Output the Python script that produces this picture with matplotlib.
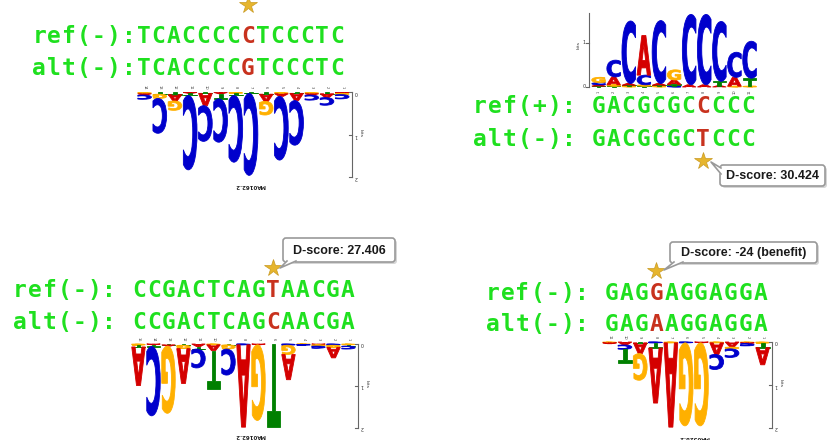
import matplotlib
matplotlib.use("Agg")
import matplotlib.pyplot as plt
from matplotlib.textpath import TextPath
from matplotlib.font_manager import FontProperties
from matplotlib.patches import PathPatch, FancyBboxPatch
from matplotlib.path import Path

# sequences shown above / below each motif logo
REF_TEXT = ["ref(-):TCACCCCCTCCCTC", "ref(+): GACGCGCCCCC",
            "ref(-): CCGACTCAGTAACGA", "ref(-): GAGGAGGAGGA"]
ALT_TEXT = ["alt(-):TCACCCCGTCCCTC", "alt(-): GACGCGCTCCC",
            "alt(-): CCGACTCAGCAACGA", "alt(-): GAGAAGGAGGA"]
SNP_INDEX = [14, 15, 17, 11]
DSCORES = [None, "D-score: 30.424", "D-score: 27.406", "D-score: -24 (benefit)"]
MOTIF_IDS = ["MA0162.2", None, "MA0162.2", "MA0528.2"]

# logo columns as seen left to right, letters from the baseline outward (bits)
LOGO1_LETTERS = ["GAC", "TGC", "TAG", "ATC", "TAC", "ATC", "GTC", "TC",
                 "TAG", "GAC", "TAC", "GAC", "TAC", "AGC"]
LOGO1_BITS = [[0.03, 0.03, 0.1], [0.04, 0.1, 0.82], [0.05, 0.15, 0.22],
              [0.02, 0.05, 1.75], [0.02, 0.29, 0.84], [0.03, 0.12, 1.02],
              [0.02, 0.05, 1.57], [0.02, 1.93], [0.04, 0.17, 0.32],
              [0.03, 0.06, 1.5], [0.02, 0.17, 1.05], [0.03, 0.03, 0.12],
              [0.03, 0.09, 0.18], [0.02, 0.03, 0.1]]

LOGO2_LETTERS = ["TACG", "TGAC", "GTAC", "TGCA", "GTAC", "CTAG", "AC", "AC",
                 "ATC", "GAC", "GTC"]
LOGO2_BITS = [[0.02, 0.03, 0.05, 0.12], [0.02, 0.03, 0.18, 0.38],
              [0.02, 0.02, 0.04, 1.42], [0.02, 0.03, 0.22, 0.9],
              [0.02, 0.02, 0.04, 1.43], [0.02, 0.04, 0.1, 0.23],
              [0.05, 1.6], [0.05, 1.6], [0.03, 0.1, 1.36],
              [0.02, 0.2, 0.57], [0.02, 0.18, 0.84]]

LOGO3_LETTERS = ["GTA", "ATC", "TAG", "TGA", "ATC", "GAT", "TGC", "CA", "AG",
                 "T", "CGA", "GC", "AGC", "CGA", "GTC"]
LOGO3_BITS = [[0.03, 0.04, 0.92], [0.02, 0.04, 1.65], [0.02, 0.03, 1.6],
              [0.03, 0.08, 0.83], [0.06, 0.06, 0.45], [0.02, 0.14, 0.9],
              [0.02, 0.1, 0.62], [0.02, 1.96], [0.02, 1.8], [1.98],
              [0.03, 0.22, 0.6], [0.01, 0.02], [0.02, 0.03, 0.05],
              [0.03, 0.05, 0.25], [0.02, 0.03, 0.07]]

LOGO4_LETTERS = ["GA", "ACT", "TAG", "CTA", "GA", "CG", "AG", "GAC", "AGC",
                 "GAC", "GTA"]
LOGO4_BITS = [[0.02, 0.02], [0.07, 0.1, 0.32], [0.02, 0.25, 0.62],
              [0.02, 0.12, 1.28], [0.02, 1.96], [0.02, 1.93], [0.02, 1.93],
              [0.02, 0.27, 0.35], [0.12, 0.04, 0.2], [0.02, 0.02, 0.05],
              [0.03, 0.1, 0.4]]

BASE_COLORS = {"A": "#d40000", "C": "#0000cc", "G": "#ffb000", "T": "#008000"}
SEQ_GREEN = "#1fe01f"
SNP_RED = "#c8321e"

fig = plt.figure(figsize=(8.28, 4.4), dpi=100)
ax = fig.add_axes([0, 0, 1, 1])
ax.set_xlim(0, 828)
ax.set_ylim(440, 0)
ax.axis("off")

logo_font = FontProperties(family="DejaVu Sans", weight="bold")
glyphs = {}


def put_letter(ch, x, y0, w, h, flip):
    if ch not in glyphs:
        p = TextPath((0, 0), ch, size=1, prop=logo_font)
        real = p.vertices[p.codes != Path.CLOSEPOLY]
        glyphs[ch] = (p, real.min(axis=0), real.max(axis=0))
    p, lo, hi = glyphs[ch]
    v = p.vertices.copy()
    u = (v[:, 0] - lo[0]) / (hi[0] - lo[0])
    t = (v[:, 1] - lo[1]) / (hi[1] - lo[1])
    if flip:
        v[:, 0] = x + w * (1 - u)
        v[:, 1] = y0 + h * t
    else:
        v[:, 0] = x + w * u
        v[:, 1] = y0 - h * t
    ax.add_patch(PathPatch(Path(v, p.codes), facecolor=BASE_COLORS[ch],
                           edgecolor=BASE_COLORS[ch], lw=0.6))


def draw_logo(letters, bits, x0, cw, base, bit_px, flip, axis_x, top_bits):
    n = len(letters)
    sgn = 1 if flip else -1
    for i, (lets, hs) in enumerate(zip(letters, bits)):
        cx = x0 + i * cw
        pos = base
        for ch, b in zip(lets, hs):
            h = b * bit_px
            put_letter(ch, cx + 0.05 * cw, pos, 0.9 * cw, h, flip)
            pos += sgn * h
        num = str(n - i) if flip else str(i + 1)
        ax.text(cx + cw / 2, base - sgn * 5, num, fontsize=2.6,
                rotation=270 if flip else 90, ha="center", va="center",
                color="#444")
    # bits axis
    end = base + sgn * top_bits * bit_px
    ax.plot([axis_x, axis_x], [base, end], color="#666", lw=0.8)
    for k in range(int(top_bits) + 1):
        yk = base + sgn * k * bit_px
        ax.plot([axis_x - 2.5, axis_x], [yk, yk], color="#666", lw=0.8)
        ax.text(axis_x + 4 if flip else axis_x - 5, yk, str(k), fontsize=3.5,
                rotation=180 if flip else 0, ha="center", va="center",
                color="#333")
    ax.text(axis_x + 9 if flip else axis_x - 10,
            base + sgn * 0.95 * bit_px, "bits", fontsize=3.2,
            rotation=270 if flip else 90, ha="center", va="center",
            color="#333")


draw_logo(LOGO1_LETTERS, LOGO1_BITS, 137, 15.2, 92.5, 42.5, True, 352, 2)
draw_logo(LOGO2_LETTERS, LOGO2_BITS, 591, 15.1, 87, 44, False, 589, 1.68)
draw_logo(LOGO3_LETTERS, LOGO3_BITS, 131, 15.0, 344, 42, True, 358, 2)
draw_logo(LOGO4_LETTERS, LOGO4_BITS, 602, 15.3, 342, 43, True, 772, 2)

# motif ids under the flipped logos
id_xy = [(250, 185), (0, 0), (250, 436), (694, 437)]
for mid, (mx, my) in zip(MOTIF_IDS, id_xy):
    if mid:
        ax.text(mx, my, mid, fontsize=4, rotation=180, ha="center",
                va="center", color="#222", weight="bold")

# sequence rows
x_first = [39.2, 479.6, 19.8, 492.5]
ref_base = [43, 113, 297, 300]
alt_base = [75, 146, 329, 331]
adv = 14.9
for p in range(4):
    for row, yb in ((REF_TEXT[p], ref_base[p]), (ALT_TEXT[p], alt_base[p])):
        for i, ch in enumerate(row):
            if ch == " ":
                continue
            col = SNP_RED if i == SNP_INDEX[p] else SEQ_GREEN
            ax.text(x_first[p] + i * adv, yb, ch, ha="center", va="baseline",
                    family="DejaVu Sans Mono", weight="bold", fontsize=16.5,
                    color=col)

# stars at the SNP
star_xy = [(248.5, 5), (703, 161), (273.5, 268), (656.5, 271)]
for sx, sy in star_xy:
    ax.plot(sx, sy, marker="*", ms=13, color="#e6b52d", mec="#c99a22",
            mew=0.5, clip_on=False)

# D-score callouts
boxes = [None, (720, 165, 105, 21), (283, 238, 112, 24), (670, 242, 147, 21)]
tips = [None, [(721, 168), (711, 162), (721, 174)],
        [(287, 261), (280, 268), (296, 261)],
        [(674, 262), (664, 270), (683, 262)]]
for txt, bx, tp in zip(DSCORES, boxes, tips):
    if txt is None:
        continue
    x, y, w, h = bx
    ax.add_patch(FancyBboxPatch((x + 2, y + 2), w, h,
                                boxstyle="round,pad=0,rounding_size=3",
                                facecolor="#bbbbbb", edgecolor="none",
                                alpha=0.6))
    ax.add_patch(FancyBboxPatch((x, y), w, h,
                                boxstyle="round,pad=0,rounding_size=3",
                                facecolor="white", edgecolor="#999999",
                                lw=1.2))
    xs = [q[0] for q in tp]
    ys = [q[1] for q in tp]
    ax.fill(xs, ys, color="white", zorder=3)
    ax.plot(xs, ys, color="#999999", lw=1.2, zorder=3)
    ax.text(x + w / 2, y + h / 2 + 0.5, txt, ha="center", va="center",
            family="Liberation Sans", weight="bold", fontsize=9,
            color="#1a1a1a", zorder=4)

fig.savefig("out.png", dpi=100)
